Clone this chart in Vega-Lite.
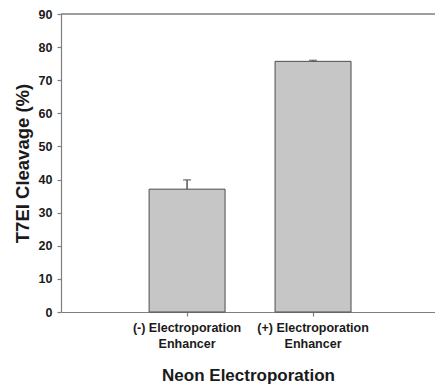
{
  "$schema": "https://vega.github.io/schema/vega-lite/v6.json",
  "autosize": "none",
  "width": 374,
  "height": 298,
  "padding": {"left": 61, "top": 14, "right": 0, "bottom": 74},
  "background": "white",
  "config": {
    "view": {"stroke": null},
    "font": "Liberation Sans",
    "axis": {
      "domainColor": "#7f7f7f",
      "tickColor": "#7f7f7f",
      "domainWidth": 1.2,
      "tickWidth": 1.2,
      "tickSize": 4,
      "labelColor": "#1a1a1a",
      "labelFont": "Liberation Sans",
      "labelFontWeight": "bold",
      "labelFontSize": 12.5,
      "titleColor": "#1a1a1a",
      "titleFont": "Liberation Sans",
      "titleFontWeight": "bold",
      "grid": false
    }
  },
  "data": {
    "values": [
      {"group": "(-) Electroporation Enhancer", "cleavage": 37.1, "upper": 39.9},
      {"group": "(+) Electroporation Enhancer", "cleavage": 75.7, "upper": 76.0}
    ]
  },
  "layer": [
    {
      "mark": {"type": "bar", "fill": "#c6c6c6", "stroke": "#4d4d4d", "strokeWidth": 1},
      "encoding": {
        "x": {
          "field": "group",
          "type": "nominal",
          "sort": null,
          "scale": {"paddingInner": 0.397, "paddingOuter": 0.683, "align": 0.512},
          "axis": {
            "title": "Neon Electroporation",
            "titleFontSize": 17,
            "titlePadding": 18,
            "labelAngle": 0,
            "labelPadding": 5,
            "labelLineHeight": 16,
            "labelExpr": "[replace(datum.label, ' Enhancer', ''), 'Enhancer']"
          }
        },
        "y": {
          "field": "cleavage",
          "type": "quantitative",
          "scale": {"domain": [0, 90], "nice": false},
          "axis": {
            "title": "T7EI Cleavage (%)",
            "titleFontSize": 18.5,
            "titlePadding": 6,
            "values": [0, 10, 20, 30, 40, 50, 60, 70, 80, 90],
            "labelOverlap": false,
            "labelPadding": 5
          }
        }
      }
    },
    {
      "mark": {"type": "rule", "color": "#555555", "strokeWidth": 1.5},
      "encoding": {
        "x": {"field": "group", "type": "nominal", "sort": null},
        "y": {
          "field": "cleavage",
          "type": "quantitative",
          "axis": {
            "title": "T7EI Cleavage (%)",
            "titleFontSize": 18.5,
            "titlePadding": 6,
            "values": [0, 10, 20, 30, 40, 50, 60, 70, 80, 90],
            "labelOverlap": false,
            "labelPadding": 5
          }
        },
        "y2": {"field": "upper"}
      }
    },
    {
      "mark": {"type": "tick", "color": "#555555", "size": 8, "thickness": 1.5},
      "encoding": {
        "x": {"field": "group", "type": "nominal", "sort": null},
        "y": {
          "field": "upper",
          "type": "quantitative",
          "axis": {
            "title": "T7EI Cleavage (%)",
            "titleFontSize": 18.5,
            "titlePadding": 6,
            "values": [0, 10, 20, 30, 40, 50, 60, 70, 80, 90],
            "labelOverlap": false,
            "labelPadding": 5
          }
        }
      }
    },
    {
      "mark": {"type": "rule", "color": "#7f7f7f", "strokeWidth": 1.2},
      "encoding": {
        "y": {
          "datum": 90,
          "type": "quantitative",
          "axis": {
            "title": "T7EI Cleavage (%)",
            "titleFontSize": 18.5,
            "titlePadding": 6,
            "values": [0, 10, 20, 30, 40, 50, 60, 70, 80, 90],
            "labelOverlap": false,
            "labelPadding": 5
          }
        }
      }
    }
  ]
}
